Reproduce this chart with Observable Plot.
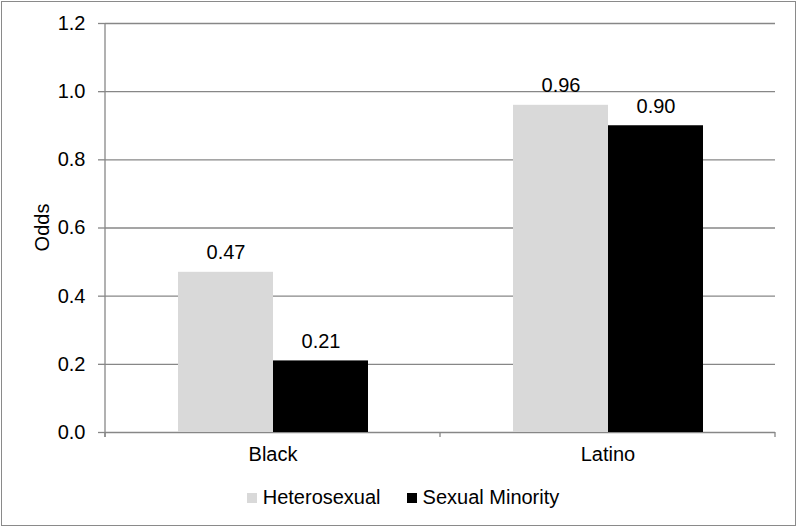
<!DOCTYPE html>
<html>
<head>
<meta charset="utf-8">
<script src="https://cdn.jsdelivr.net/npm/d3@7"></script>
<script src="https://cdn.jsdelivr.net/npm/@observablehq/plot@0.6"></script>
<style>
  html, body { margin: 0; padding: 0; background: #fff; }
  #wrap { position: relative; width: 800px; height: 530px; font-family: "Liberation Sans", Arial, sans-serif; }
  #border { position: absolute; left: 1px; top: 1px; width: 795px; height: 525px; border: 1px solid #8a8a8a; box-sizing: border-box; pointer-events: none; }
  #chart { position: absolute; left: 0; top: 0; }
  #legend { position: absolute; left: 0; top: 486px; width: 806px; display: flex; justify-content: center; align-items: center; font-size: 20px; color: #000; }
  .item { display: flex; align-items: center; margin: 0 13px; }
  .sw { width: 10px; height: 10px; margin-right: 6px; }
</style>
</head>
<body>
<div id="wrap">
  <div id="chart"></div>
  <div id="legend"></div>
  <div id="border"></div>
</div>
<script>
const categories = ["Black", "Latino"];
const series = ["Heterosexual", "Sexual Minority"];
const heterosexual = [0.47, 0.96];
const sexualMinority = [0.21, 0.90];
const labels = { "Heterosexual": ["0.47", "0.96"], "Sexual Minority": ["0.21", "0.90"] };
const colors = ["#d9d9d9", "#000000"];
const yTicks = [0, 0.2, 0.4, 0.6, 0.8, 1.0, 1.2];
const yLabel = "Odds";

const data = [];
categories.forEach((c, i) => {
  data.push({ category: c, series: series[0], value: heterosexual[i], label: labels[series[0]][i] });
  data.push({ category: c, series: series[1], value: sexualMinority[i], label: labels[series[1]][i] });
});

const gridColor = "#878787";

const plot = Plot.plot({
  width: 800,
  height: 478,
  marginLeft: 105,
  marginRight: 25,
  marginTop: 23,
  marginBottom: 46,
  style: { fontFamily: "Liberation Sans, Arial, sans-serif", fontSize: "20px", color: "#000", background: "transparent" },
  fx: { domain: categories, padding: 0, label: null },
  x: { domain: series, paddingInner: 0, paddingOuter: 0.745, axis: null },
  y: { domain: [0, 1.2], ticks: yTicks, label: null },
  color: { domain: series, range: colors },
  marks: [
    Plot.gridY(yTicks, { stroke: gridColor, strokeOpacity: 1, strokeWidth: 1.3 }),
    Plot.barY(data, { fx: "category", x: "series", y: "value", fill: "series" }),
    Plot.text(data, { fx: "category", x: "series", y: "value", text: "label", lineAnchor: "bottom", dy: -13, fontSize: 20, fill: "#000" }),
    Plot.axisY(yTicks, { anchor: "left", tickSize: 7, tickPadding: 13, stroke: gridColor, strokeWidth: 1.3, tickFormat: d => d.toFixed(1), fontSize: 20, label: null }),
    Plot.axisFx({ anchor: "bottom", tickSize: 0, tickPadding: 14, fontSize: 20, label: null })
  ]
});

document.getElementById("chart").appendChild(plot);

// Excel-style axis lines and category boundary ticks, placed via Plot's scales
const svg = d3.select(plot);
const fx = plot.scale("fx");
const y = plot.scale("y");
const x0 = fx.apply(categories[0]);
const bw = fx.bandwidth;
const y0 = y.apply(0), y1 = y.apply(1.2);
const g = svg.append("g").attr("stroke", gridColor).attr("stroke-width", 1.3);
g.append("line").attr("x1", x0).attr("x2", x0).attr("y1", y1).attr("y2", y0 + 5);
const bounds = [x0];
categories.forEach(c => bounds.push(fx.apply(c) + bw));
bounds.forEach(b => g.append("line").attr("x1", b).attr("x2", b).attr("y1", y0).attr("y2", y0 + 5));

// Y-axis title
svg.append("text")
  .attr("transform", `translate(42,${(y0 + y1) / 2}) rotate(-90)`)
  .attr("text-anchor", "middle")
  .attr("dominant-baseline", "central")
  .attr("font-size", 20)
  .attr("fill", "#000")
  .text(yLabel);

// Legend
const legend = d3.select("#legend");
series.forEach((s, i) => {
  const it = legend.append("div").attr("class", "item");
  it.append("div").attr("class", "sw").style("background", colors[i]);
  it.append("span").text(s);
});
</script>
</body>
</html>
